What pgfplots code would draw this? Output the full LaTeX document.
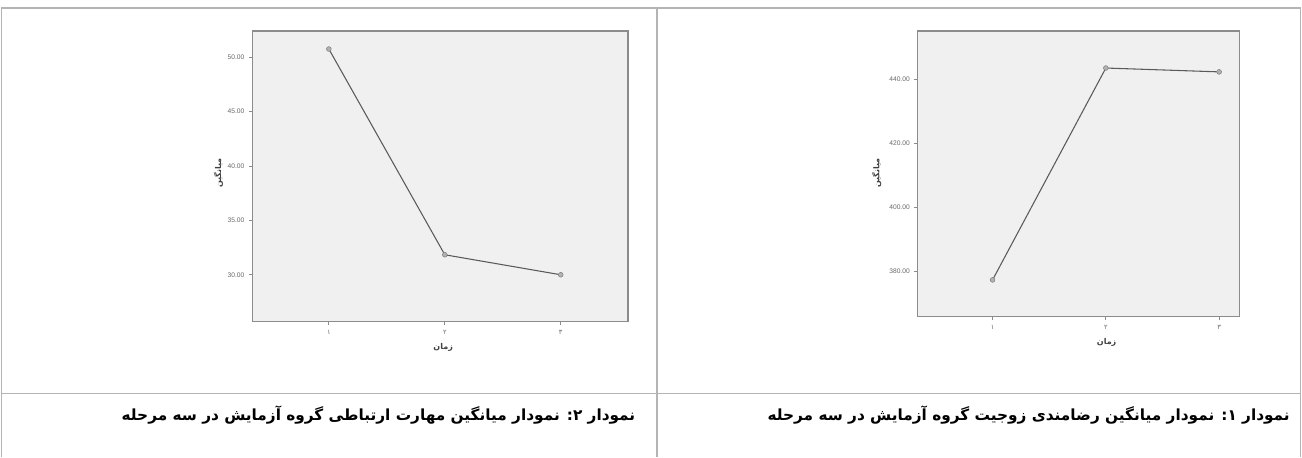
\documentclass[border=0pt]{standalone}
\usepackage{fontspec}
\usepackage{pgfplots}
\pgfplotsset{compat=1.18}
\setmainfont{Liberation Sans}
\newfontfamily\arabicfont[Script=Arabic]{DejaVu Sans}
\TeXXeTstate=1

\definecolor{plotbg}{HTML}{F0F0F0}
\definecolor{framegray}{HTML}{8C8C8C}
\definecolor{linegray}{HTML}{5A5A5A}
\definecolor{tablegray}{HTML}{B4B4B4}

\pgfplotsset{
  spss/.style={
    scale only axis,
    axis background/.style={fill=plotbg},
    axis line style={framegray, line width=0.9pt},
    tick style={framegray, line width=0.6pt},
    tick align=outside,
    major tick length=2.5pt,
    xtick={1,2,3},
    xticklabels={{\arabicfont ۱},{\arabicfont ۲},{\arabicfont ۳}},
    xtick pos=bottom,
    ytick pos=left,
    tick label style={font=\fontsize{5}{6}\selectfont, text=black!60},
    /pgf/number format/assume math mode=true,
    yticklabel style={/pgf/number format/.cd, fixed, fixed zerofill, precision=2},
    clip=false,
  },
  meanline/.style={
    linegray, line width=0.8pt,
    mark=*, mark size=1.8pt,
    mark options={fill=gray!60, draw=gray, line width=0.4pt},
  },
}

\begin{document}
\begin{tikzpicture}[x=0.75pt, y=-0.75pt]
  % canvas, pixel units
  \path (0,0) rectangle (1302,457);

  % table grid
  \draw[tablegray, line width=0.8pt] (0,8) -- (1302,8);
  \draw[tablegray, line width=0.8pt] (0,394) -- (1302,394);
  \draw[tablegray, line width=0.8pt] (1,8) -- (1,457);
  \draw[tablegray, line width=0.8pt] (657,8) -- (657,457);
  \draw[tablegray, line width=0.8pt] (1301,8) -- (1301,457);

  \coordinate (L) at (252,31);
  \coordinate (R) at (918,31);

  % chart 2 (left): communication skills
  \begin{axis}[spss,
    at={(L)}, anchor=north west,
    width=282pt, height=218.25pt,
    xmin=0.34, xmax=3.58,
    ymin=25.68, ymax=52.42,
    ytick={30,35,40,45,50},
  ]
    \addplot[meanline] coordinates {(1,50.76) (2,31.84) (3,30.0)};
  \end{axis}

  % chart 1 (right): marital satisfaction
  \begin{axis}[spss,
    at={(R)}, anchor=north west,
    width=241.5pt, height=214.5pt,
    xmin=0.34, xmax=3.18,
    ymin=365.9, ymax=455.06,
    ytick={380,400,420,440},
  ]
    \addplot[meanline] coordinates {(1,377.4) (2,443.5) (3,442.3)};
  \end{axis}

  % axis titles
  \node[rotate=90, font=\arabicfont\bfseries\fontsize{6}{7}\selectfont, text=black!75] at (218,173) {\beginR میانگین\endR};
  \node[font=\arabicfont\bfseries\fontsize{6}{7}\selectfont, text=black!75] at (443,348) {\beginR زمان\endR};
  \node[rotate=90, font=\arabicfont\bfseries\fontsize{6}{7}\selectfont, text=black!75] at (877,173) {\beginR میانگین\endR};
  \node[font=\arabicfont\bfseries\fontsize{6}{7}\selectfont, text=black!75] at (1107,343) {\beginR زمان\endR};

  % captions
  \node[anchor=east, font=\arabicfont\bfseries\fontsize{11.5}{14}\selectfont] at (640,415)
    {\beginR نمودار ۲: نمودار میانگین مهارت ارتباطی گروه آزمایش در سه مرحله\endR};
  \node[anchor=east, font=\arabicfont\bfseries\fontsize{11.5}{14}\selectfont] at (1295,415)
    {\beginR نمودار ۱: نمودار میانگین رضامندی زوجیت گروه آزمایش در سه مرحله\endR};
\end{tikzpicture}
\end{document}
